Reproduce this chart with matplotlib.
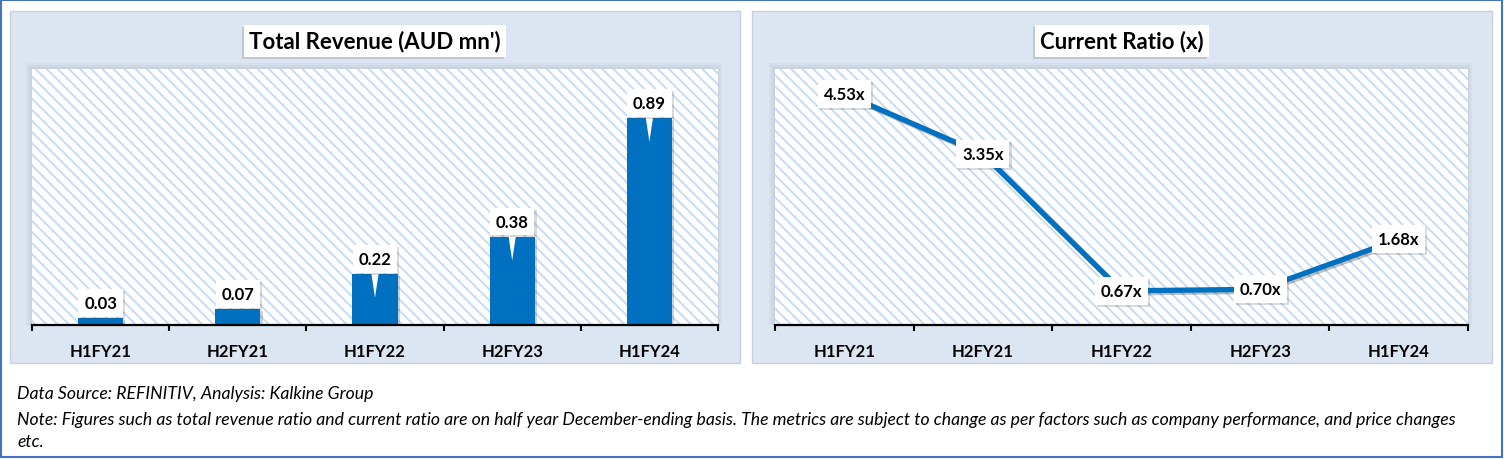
import matplotlib
matplotlib.use('Agg')
import matplotlib.pyplot as plt
import matplotlib.patheffects as pe
from matplotlib.patches import Rectangle
from matplotlib.transforms import ScaledTranslation

plt.rcParams['font.family'] = ['Lato', 'DejaVu Sans']
plt.rcParams['hatch.linewidth'] = 1.4

periods = ['H1FY21', 'H2FY21', 'H1FY22', 'H2FY23', 'H1FY24']
revenue = [0.03, 0.07, 0.22, 0.38, 0.89]
current_ratio = [4.53, 3.35, 0.67, 0.70, 1.68]

titles = ["Total Revenue (AUD mn')", "Current Ratio (x)"]
source_note = "Data Source: REFINITIV, Analysis: Kalkine Group"
note_line1 = ("Note: Figures such as total revenue ratio and current ratio are on half year December-ending basis. "
              "The metrics are subject to change as per factors such as company performance, and price changes")
note_line2 = "etc."

BLUE = '#0070C0'
PANEL = '#DCE6F2'
HATCH = '#C7DBF3'

W, H = 1504, 460
fig = plt.figure(figsize=(W / 100, H / 100), dpi=100)
fig.patch.set_facecolor('white')


def rect(x0, y0, x1, y1):
    # pixel box, origin top-left -> figure fraction [l, b, w, h]
    return [x0 / W, 1 - y1 / H, (x1 - x0) / W, (y1 - y0) / H]


def fig_rect(x0, y0, x1, y1, **kw):
    l, b, w, h = rect(x0, y0, x1, y1)
    p = Rectangle((l, b), w, h, transform=fig.transFigure, **kw)
    fig.patches.append(p)
    return p


# outer border and the two light blue panels
fig_rect(1, 1, 1502, 458, fill=False, ec='#4472C4', lw=1.5, zorder=-3)
panels = [(10, 12, 740, 364), (752, 12, 1492, 364)]
plots = [(32, 70, 718, 326), (775, 70, 1468, 326)]
for p in panels:
    fig_rect(*p, fc=PANEL, ec='#C9D0D9', lw=1, zorder=-3)

# soft shadow around plot areas
for x0, y0, x1, y1 in plots:
    for k in (6, 4, 2):
        fig_rect(x0 - k, y0 - k, x1 + k * 0.6, y1, fc='#7F8C9A', ec='none', alpha=0.07, zorder=-2)

axes = [fig.add_axes(rect(*p)) for p in plots]

for ax in axes:
    ax.set_facecolor('white')
    ax.add_patch(Rectangle((0, 0), 1, 1, transform=ax.transAxes, fc='none', ec=HATCH,
                           hatch='\\\\\\', lw=0, zorder=0))
    ax.set_xlim(-0.5, 4.5)
    ax.set_yticks([])
    for s in ('left', 'top', 'right'):
        ax.spines[s].set_visible(False)
    ax.spines['bottom'].set_linewidth(1.6)
    ax.spines['bottom'].set_color('black')
    ax.set_xticks(range(len(periods)), periods, fontsize=12, fontweight='bold')
    ax.set_xticks([i - 0.5 for i in range(len(periods) + 1)], minor=True)
    ax.tick_params(axis='x', which='major', length=0, pad=13)
    ax.tick_params(axis='x', which='minor', length=4.5, width=1.5, direction='out', color='black')

label_box = dict(boxstyle='square,pad=0.35', fc='white', ec='none')
shadow = [pe.SimplePatchShadow(offset=(1.5, -1.5), alpha=0.2), pe.Normal()]

# revenue bars
ax1 = axes[0]
ax1.set_ylim(0, 1.1)
bars = ax1.bar(range(len(revenue)), revenue, width=0.33, color=BLUE, zorder=2)
for b in bars:
    b.set_path_effects(shadow)
tip = ax1.transData + ScaledTranslation(0, -0.24, fig.dpi_scale_trans)
for i, v in enumerate(revenue):
    arrow = None
    if v > 0.15:
        arrow = dict(arrowstyle='wedge,tail_width=0.45', fc='white', ec='none', shrinkA=0, shrinkB=0)
    t = ax1.annotate(f'{v:.2f}', xy=(i, v), xycoords=tip, xytext=(0, 24 + 15), textcoords='offset pixels',
                     ha='center', va='center', fontsize=12, fontweight='bold', bbox=label_box,
                     arrowprops=arrow, zorder=4)
    t.get_bbox_patch().set_path_effects(shadow)

# current ratio line
ax2 = axes[1]
ax2.set_ylim(0, 5.02)
ax2.plot(range(len(current_ratio)), current_ratio, color=BLUE, lw=3.8, zorder=2,
         path_effects=[pe.SimpleLineShadow(offset=(1.5, -1.5), alpha=0.25), pe.Normal()])
for i, v in enumerate(current_ratio):
    t = ax2.annotate(f'{v:.2f}x', xy=(i, v), ha='center', va='center', fontsize=12,
                     fontweight='bold', bbox=label_box, zorder=4)
    t.get_bbox_patch().set_path_effects(shadow)

# chart titles in white boxes
for (x0, y0, x1, y1), title in zip(panels, titles):
    t = fig.text((x0 + x1) / 2 / W, 1 - 42 / H, title, ha='center', va='center', fontsize=16,
                 fontweight='bold', bbox=dict(boxstyle='square,pad=0.22', fc='white', ec='none'))
    t.get_bbox_patch().set_path_effects([pe.SimplePatchShadow(offset=(-1.5, -1.5), alpha=0.2), pe.Normal()])

# footnotes
fig.text(17 / W, 1 - 394 / H, source_note, fontsize=12.7, style='italic', va='center')
fig.text(17 / W, 1 - 420 / H, note_line1, fontsize=12.7, style='italic', va='center')
fig.text(17 / W, 1 - 442 / H, note_line2, fontsize=12.7, style='italic', va='center')

fig.savefig('out.png', dpi=100)
